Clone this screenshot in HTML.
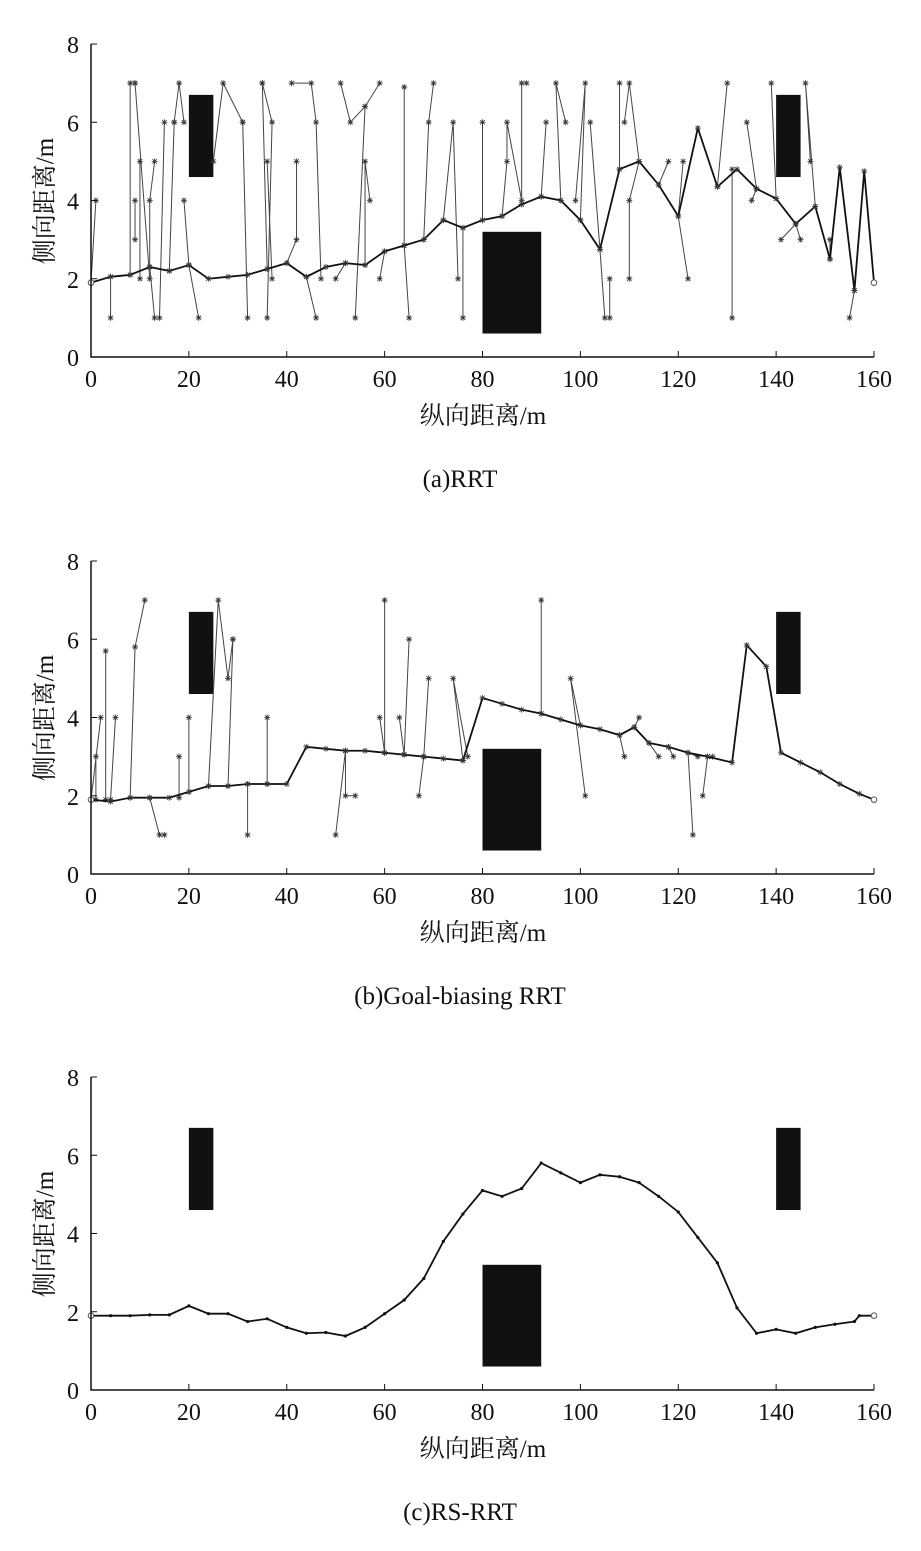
<!DOCTYPE html>
<html><head><meta charset="utf-8">
<style>
body{margin:0;background:#fff;}
svg{display:block;}
text{font-family:"Liberation Serif","Noto Serif CJK SC",serif;fill:#111;}
</style></head>
<body>
<svg id="chart" width="921" height="1551" viewBox="0 0 921 1551" xmlns="http://www.w3.org/2000/svg"></svg>
<script>
const xTicks=[0,20,40,60,80,100,120,140,160];
const yTicks=[0,2,4,6,8];
const captions=["(a)RRT","(b)Goal-biasing RRT","(c)RS-RRT"];
const obstacles=[[20,25,4.6,6.7],[80,92,0.6,3.2],[140,145,4.6,6.7]];
const pathA=[[0,1.9],[4,2.05],[8,2.1],[12,2.3],[16,2.2],[20,2.35],[24,2.0],[28,2.05],[32,2.1],[36,2.25],[40,2.4],[44,2.05],[48,2.3],[52,2.4],[56,2.35],[60,2.7],[64,2.85],[68,3.0],[72,3.5],[76,3.3],[80,3.5],[84,3.6],[88,3.9],[92,4.1],[96,4.0],[100,3.5],[104,2.75],[108,4.8],[112,5.0],[116,4.4],[120,3.6],[124,5.85],[128,4.35],[132,4.8],[136,4.3],[140,4.05],[144,3.4],[148,3.85],[151,2.5],[153,4.85],[156,1.7],[158,4.75],[160,1.9]];
const branchesA=[[[0,1.9],[1,4]],[[4,2.05],[4,1]],[[8,2.1],[8,7],[9,7]],[[9,7],[12,2]],[[10,5],[10,2]],[[9,4],[9,3]],[[12,2.3],[12,4],[13,5]],[[12,2.3],[13,1]],[[14,1],[15,6]],[[16,2.2],[17,6]],[[17,6],[18,7],[19,6]],[[20,2.35],[19,4]],[[20,2.35],[22,1]],[[25,5],[27,7],[31,6]],[[31,6],[32,1]],[[36,2.25],[35,7]],[[35,7],[37,6],[36,1]],[[36,5],[37,2]],[[40,2.4],[42,3],[42,5]],[[44,2.05],[46,1]],[[41,7],[45,7],[46,6],[47,2]],[[52,2.4],[50,2]],[[51,7],[53,6],[56,6.4],[59,7]],[[56,2.35],[56,5],[57,4]],[[56,6.4],[54,1]],[[60,2.7],[59,2]],[[64,2.85],[64,6.9]],[[64,2.85],[65,1]],[[68,3],[69,6],[70,7]],[[72,3.5],[74,6],[75,2]],[[76,3.3],[76,1]],[[80,3.5],[80,6]],[[84,3.6],[85,5],[85,6],[88,4]],[[88,3.9],[88,7],[89,7]],[[92,4.1],[93,6]],[[96,4.0],[95,7],[97,6]],[[100,3.5],[101,7],[99,4]],[[104,2.75],[102,6]],[[104,2.75],[105,1]],[[106,1],[106,2]],[[108,4.8],[108,7]],[[112,5.0],[110,7],[109,6]],[[112,5],[110,4],[110,2]],[[116,4.4],[118,5]],[[120,3.6],[121,5]],[[120,3.6],[122,2]],[[128,4.35],[130,7]],[[131,4.8],[131,1]],[[136,4.3],[134,6]],[[136,4.3],[135,4]],[[140,4.05],[139,7]],[[144,3.4],[141,3]],[[144,3.4],[145,3]],[[148,3.85],[146,7],[147,5]],[[151,2.5],[151,3]],[[156,1.7],[155,1]]];
const pathB=[[0,1.9],[4,1.85],[8,1.95],[12,1.95],[16,1.95],[20,2.1],[24,2.25],[28,2.25],[32,2.3],[36,2.3],[40,2.3],[44,3.25],[48,3.2],[52,3.15],[56,3.15],[60,3.1],[64,3.05],[68,3.0],[72,2.95],[76,2.9],[80,4.5],[84,4.35],[88,4.2],[92,4.1],[96,3.95],[100,3.8],[104,3.7],[108,3.55],[111,3.75],[114,3.35],[118,3.25],[122,3.1],[126,3.0],[131,2.85],[134,5.85],[138,5.3],[141,3.1],[145,2.85],[149,2.6],[153,2.3],[157,2.05],[160,1.9]];
const branchesB=[[[0,1.9],[2,4]],[[1,1.9],[1,3]],[[3,1.9],[3,5.7]],[[4,1.9],[5,4]],[[8,1.95],[9,5.8],[11,7]],[[12,1.95],[14,1],[15,1]],[[18,1.95],[18,3]],[[20,2.1],[20,4]],[[24,2.25],[26,7],[28,5],[29,6]],[[28,2.25],[29,6]],[[32,2.3],[32,1]],[[36,2.3],[36,4]],[[52,3.15],[50,1]],[[52,3.15],[52,2],[54,2]],[[60,3.1],[60,7]],[[60,3.1],[59,4]],[[64,3.05],[63,4]],[[64,3.05],[65,6]],[[68,3.0],[67,2]],[[68,3],[69,5]],[[76,2.9],[74,5],[77,3]],[[92,4.1],[92,7]],[[100,3.8],[98,5],[101,2]],[[108,3.55],[109,3]],[[111,3.75],[112,4]],[[114,3.35],[116,3]],[[118,3.25],[119,3]],[[122,3.1],[123,1]],[[122,3.1],[124,3]],[[126,3.0],[125,2]],[[126,3],[127,3]]];
const pathC=[[0,1.9],[4,1.9],[8,1.9],[12,1.92],[16,1.92],[20,2.15],[24,1.95],[28,1.95],[32,1.75],[36,1.82],[40,1.6],[44,1.45],[48,1.47],[52,1.38],[56,1.6],[60,1.95],[64,2.3],[68,2.85],[72,3.8],[76,4.5],[80,5.1],[84,4.95],[88,5.15],[92,5.8],[96,5.55],[100,5.3],[104,5.5],[108,5.45],[112,5.3],[116,4.95],[120,4.55],[124,3.9],[128,3.25],[132,2.1],[136,1.45],[140,1.55],[144,1.45],[148,1.6],[152,1.68],[156,1.75],[157,1.9],[160,1.9]];

const svg=document.getElementById('chart');
const NS='http://www.w3.org/2000/svg';
function mk(tag,attrs,parent){const e=document.createElementNS(NS,tag);for(const k in attrs)e.setAttribute(k,attrs[k]);(parent||svg).appendChild(e);return e;}
const panels=[{y0:357,path:pathA,br:branchesA,star:true},{y0:874,path:pathB,br:branchesB,star:true},{y0:1390,path:pathC,br:[],star:false}];
const X0=91,X1=874,H=313;
panels.forEach((p,i)=>{
  const g=mk('g',{});
  
  
  const sx=v=>X0+(v/160)*(X1-X0);
  const sy=v=>p.y0-(v/8)*H;
  obstacles.forEach((o,j)=>{
    const r=mk('rect',{x:sx(o[0]),y:sy(o[3]),width:sx(o[1])-sx(o[0]),height:sy(o[2])-sy(o[3]),fill:'#111'},g);
    
    
  });
  const star=(x,y)=>{const s=3;mk('path',{d:`M${x-s},${y}H${x+s}M${x},${y-s}V${y+s}M${x-2.2},${y-2.2}L${x+2.2},${y+2.2}M${x-2.2},${y+2.2}L${x+2.2},${y-2.2}`,stroke:'#333','stroke-width':0.8},g);};
  p.br.forEach(b=>{
    const l=mk('polyline',{points:b.map(q=>sx(q[0])+','+sy(q[1])).join(' '),fill:'none',stroke:'#444','stroke-width':1},g);
    
    
    b.forEach(q=>star(sx(q[0]),sy(q[1])));
  });
  const pl=mk('polyline',{points:p.path.map(q=>sx(q[0])+','+sy(q[1])).join(' '),fill:'none',stroke:'#111','stroke-width':1.8},g);
  
  
  p.path.forEach(q=>{ if(p.star) star(sx(q[0]),sy(q[1])); else mk('circle',{cx:sx(q[0]),cy:sy(q[1]),r:1.6,fill:'#111'},g);});
  const last=p.path[p.path.length-1];
  mk('circle',{cx:sx(last[0]),cy:sy(last[1]),r:2.8,fill:'#fff',stroke:'#555','stroke-width':1},g);
  mk('circle',{cx:sx(0),cy:sy(1.9),r:2.8,fill:'#fff',stroke:'#555','stroke-width':1},g);
  const ax=mk('path',{d:`M${X0},${sy(8)}V${p.y0}H${X1}`,stroke:'#111','stroke-width':1.5,fill:'none'},g);
  
  
  xTicks.forEach(t=>{mk('line',{x1:sx(t),x2:sx(t),y1:p.y0,y2:p.y0-6,stroke:'#111'},g);
    const tx=mk('text',{x:sx(t),y:p.y0+30,'font-size':24,'text-anchor':'middle'},g);tx.textContent=t;
    });
  yTicks.forEach(t=>{mk('line',{x1:X0,x2:X0+6,y1:sy(t),y2:sy(t),stroke:'#111'},g);
    const tx=mk('text',{x:X0-12,y:sy(t)+9,'font-size':24,'text-anchor':'end'},g);tx.textContent=t;
    });
  const xl=mk('text',{x:483,y:p.y0+67,'font-size':25,'text-anchor':'middle'},g);xl.textContent='纵向距离/m';
  
  const yc=p.y0-156;
  const yl=mk('text',{x:0,y:0,'font-size':25,'text-anchor':'middle',transform:`translate(53,${yc}) rotate(-90)`},g);yl.textContent='侧向距离/m';
  
  const cp=mk('text',{x:460,y:p.y0+130,'font-size':25,'text-anchor':'middle'},g);cp.textContent=captions[i];
  
});
</script>
</body></html>
